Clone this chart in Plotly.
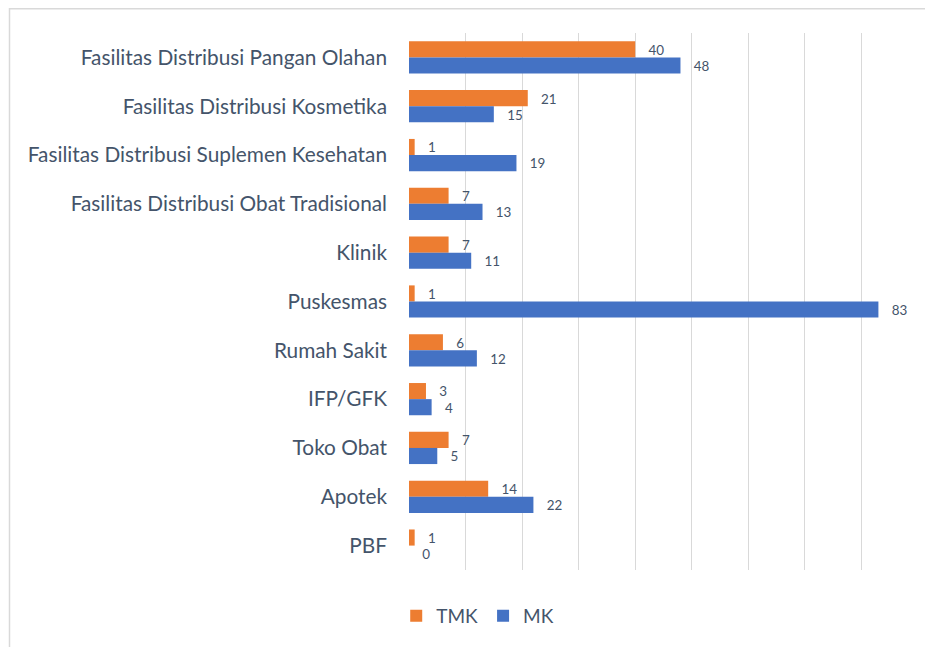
import plotly.graph_objects as go

categories = [
    "Fasilitas Distribusi Pangan Olahan",
    "Fasilitas Distribusi Kosmetika",
    "Fasilitas Distribusi Suplemen Kesehatan",
    "Fasilitas Distribusi Obat Tradisional",
    "Klinik",
    "Puskesmas",
    "Rumah Sakit",
    "IFP/GFK",
    "Toko Obat",
    "Apotek",
    "PBF",
]
tmk = [40, 21, 1, 7, 7, 1, 6, 3, 7, 14, 1]
mk = [48, 15, 19, 13, 11, 83, 12, 4, 5, 22, 0]

FONT = "Lato"
TXT = "#44546A"

fig = go.Figure()
fig.add_trace(go.Bar(
    y=categories, x=tmk, name="TMK", orientation="h",
    marker=dict(color="#ED7D31", line=dict(width=0)),
    texttemplate="   %{x}", textposition="outside", cliponaxis=False,
    textfont=dict(size=15, color=TXT, family=FONT),
))
fig.add_trace(go.Bar(
    y=categories, x=mk, name="MK", orientation="h",
    marker=dict(color="#4472C4", line=dict(width=0)),
    texttemplate="   %{x}", textposition="outside", cliponaxis=False,
    textfont=dict(size=15, color=TXT, family=FONT),
))

# page is rendered with an 8px body offset; plot area target (screen): x 409-918, y 33-570
L, T = 401, 25
R = 933 - 910
B = 647 - 562
PW, PH = 509, 537

fig.update_layout(
    width=933, height=647,
    margin=dict(l=L, r=R, t=T, b=B),
    paper_bgcolor="white", plot_bgcolor="white",
    barmode="group", bargap=0.34, bargroupgap=0,
    font=dict(family=FONT, color=TXT),
    showlegend=True,
    legend=dict(orientation="h", x=0.135, xanchor="center", y=-0.0857, yanchor="middle",
                font=dict(size=19, color=TXT, family=FONT),
                itemwidth=30, tracegroupgap=0),
    xaxis=dict(range=[0, 90], dtick=10, showticklabels=False, showgrid=True,
               gridcolor="#D9D9D9", gridwidth=1, zeroline=False, showline=False,
               fixedrange=True),
    yaxis=dict(autorange="reversed", showgrid=False, zeroline=False, showline=False,
               tickfont=dict(size=20.8, color=TXT, family=FONT),
               ticks="", ticklabelstandoff=21),
    shapes=[dict(type="rect", xref="paper", yref="paper",
                 x0=(1.5 - L) / PW, x1=(945 - L) / PW,
                 y0=(T + PH - 660) / PH, y1=(T + PH - 0.8) / PH,
                 line=dict(color="#D9D9D9", width=1.5), fillcolor="rgba(0,0,0,0)",
                 layer="below")],
)

fig.write_html("out.html")
